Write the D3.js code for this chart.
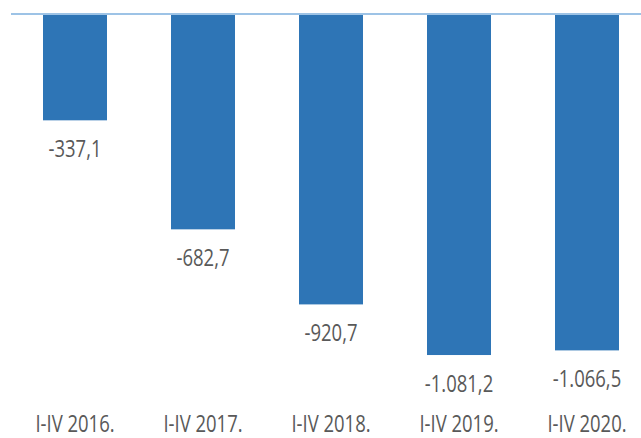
<!DOCTYPE html>
<html><head><meta charset="utf-8">
<script src="https://cdn.jsdelivr.net/npm/d3@7"></script>
<style>
html,body{margin:0;padding:0;background:#fff;}
svg{display:block;}
text{font-family:"Open Sans","Liberation Sans",sans-serif;fill:#595959;}
</style></head>
<body>
<svg id="chart" width="641" height="438"></svg>
<script>
const categories = ["I-IV 2016.","I-IV 2017.","I-IV 2018.","I-IV 2019.","I-IV 2020."];
const values = [-337.1,-682.7,-920.7,-1081.2,-1066.5];
const valueLabels = ["-337,1","-682,7","-920,7","-1.081,2","-1.066,5"];

const svg = d3.select("#chart");
const x = d3.scaleBand().domain(categories).range([11,651]).paddingInner(0.5).paddingOuter(0.25);
const y = d3.scaleLinear().domain([0,-1200]).range([14,392.5]);
const sx = 0.77;

svg.selectAll("rect.bar").data(values).join("rect")
  .attr("class","bar")
  .attr("x",(d,i)=>x(categories[i]))
  .attr("width",x.bandwidth())
  .attr("y",y(0))
  .attr("height",d=>y(d)-y(0))
  .attr("fill","#2E75B6");

svg.append("line")
  .attr("x1",11).attr("x2",641)
  .attr("y1",y(0)).attr("y2",y(0))
  .attr("stroke","#9DC3E6").attr("stroke-width",2);

svg.selectAll("text.val").data(values).join("text")
  .attr("class","val")
  .attr("transform",(d,i)=>`translate(${x(categories[i])+x.bandwidth()/2},${y(d)+37}) scale(${sx},1)`)
  .attr("text-anchor","middle")
  .attr("font-size",24)
  .text((d,i)=>valueLabels[i]);

svg.selectAll("text.cat").data(categories).join("text")
  .attr("class","cat")
  .attr("transform",d=>`translate(${x(d)+x.bandwidth()/2},432) scale(${sx},1)`)
  .attr("text-anchor","middle")
  .attr("font-size",24)
  .text(d=>d);
</script>
</body></html>
